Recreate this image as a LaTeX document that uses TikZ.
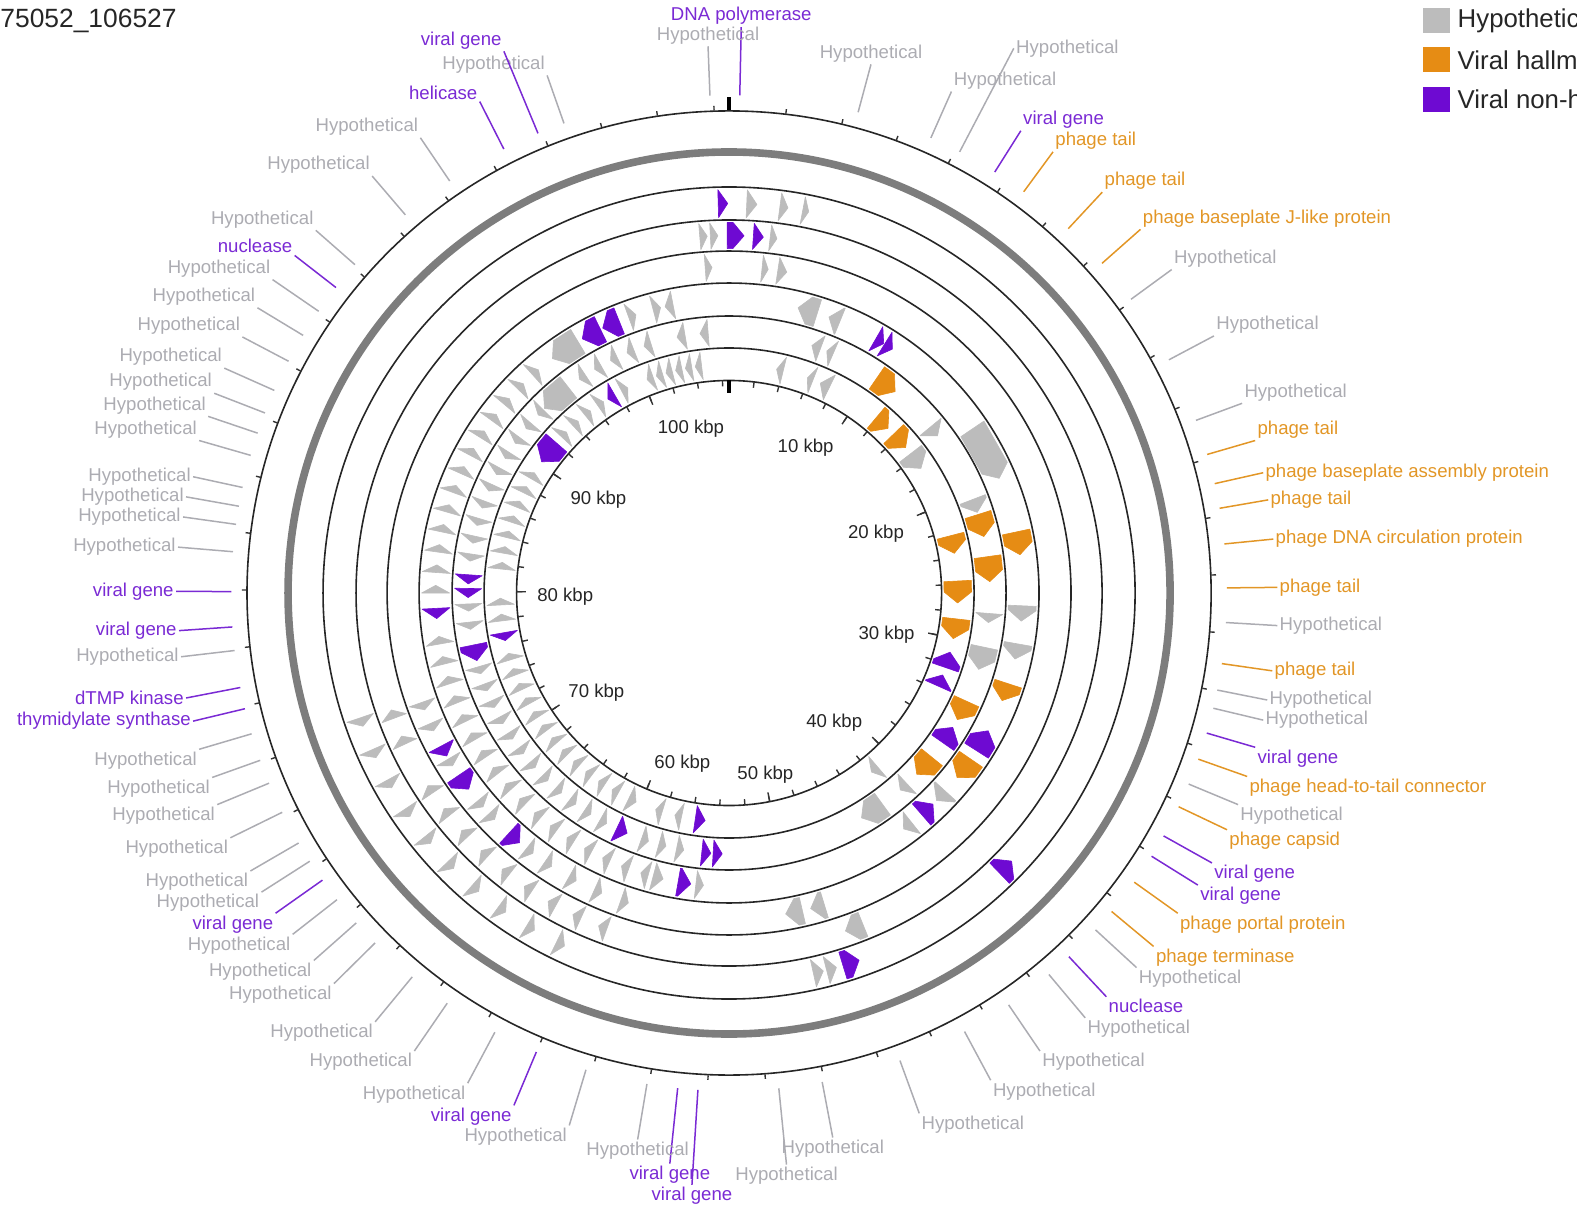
\documentclass[tikz,border=0pt]{standalone}
\usepackage{fontspec}
\setmainfont{Liberation Sans}
\usetikzlibrary{calc}
\definecolor{hyp}{RGB}{188,188,188}
\definecolor{hall}{RGB}{230,140,20}
\definecolor{nonh}{RGB}{110,10,210}
\definecolor{hyptext}{RGB}{172,172,178}
\definecolor{halltext}{RGB}{226,150,38}
\definecolor{nonhtext}{RGB}{122,42,212}
\definecolor{ringgray}{RGB}{125,125,125}
\newcommand\gn[5]{%
 \pgfmathsetmacro\gnro{{0,403.7,370.9,340,308.2,275.4,243.6}[#1]-2.5}%
 \pgfmathsetmacro\gnri{{0,370.9,340,308.2,275.4,243.6,211.3}[#1]+2.5}%
 \pgfmathsetmacro\gnrm{(\gnro+\gnri)/2}%
 \pgfmathsetmacro\gnhd{min((#3)-(#2),11/\gnrm*57.2958)}%
 \ifnum#5>0
  \pgfmathsetmacro\gnA{(#2)-90}\pgfmathsetmacro\gnB{(#3)-90-\gnhd}\pgfmathsetmacro\gnT{(#3)-90}%
 \else
  \pgfmathsetmacro\gnA{(#3)-90}\pgfmathsetmacro\gnB{(#2)-90+\gnhd}\pgfmathsetmacro\gnT{(#2)-90}%
 \fi
 \filldraw[gene=#4] (\gnA:\gnri) -- (\gnA:\gnro) -- (\gnB:\gnro) -- (\gnT:\gnrm) -- (\gnB:\gnri) -- cycle;%
}
\newcommand\lab[5]{%
 \node[#2, anchor=#3] (#1) at (#4) {#5};
 \coordinate (#1-s) at ($(C)!248.9pt!(#1.#3)$);
 \draw[#2line] (#1-s) -- (#1.#3);
}
\begin{document}
\begin{tikzpicture}[x=0.50287pt,y=-0.50287pt,
  gene/.style={fill=#1,draw=#1,line width=0.3pt,line join=round},
  ringline/.style={draw=black!85,line width=0.8pt},
  tickline/.style={draw=black!80,line width=0.7pt},
  labfont/.style={font=\fontsize{9.3}{11}\selectfont,inner sep=1pt},
  hl/.style={labfont,text=hyptext},
  al/.style={labfont,text=halltext},
  nl/.style={labfont,text=nonhtext},
  hlline/.style={draw=hyptext,line width=0.75pt},
  alline/.style={draw=halltext,line width=0.75pt},
  nlline/.style={draw=nonhtext,line width=0.75pt},
  kbp/.style={font=\fontsize{9.3}{11}\selectfont,inner sep=0pt,text=black!85},
  legtext/.style={font=\fontsize{12.9}{15}\selectfont,inner sep=0pt,anchor=west,text=black!85}]
\useasboundingbox (0,0) rectangle (1568,1198);
\clip (0,0) rectangle (1568,1198);
\coordinate (C) at (724.9,589.6);

% title and legend
\node[anchor=base west,font=\fontsize{13.2}{15}\selectfont,inner sep=0pt,text=black!85] (title) at (0,27) {75052\_106527};
\fill[hyp] (1415,8) rectangle (1442,33);
\fill[hall] (1415,47) rectangle (1442,72);
\fill[nonh] (1415,86) rectangle (1442,111);
\node[legtext] (lg1) at (1449,20.5) {Hypothetical};
\node[legtext] (lg2) at (1449,59.5) {Viral hallmark};
\node[legtext] (lg3) at (1449,98.5) {Viral non-hallmark};

\begin{scope}[shift={(724.9,589.6)}]
% rings
\draw[ringline] (0,0) circle[radius=241.03pt];
\draw[draw=ringgray,line width=3.8pt] (0,0) circle[radius=220.51pt];
\foreach \r in {203.01,186.51,170.98,154.98,138.49,122.50,106.26}
  \draw[ringline] (0,0) circle[radius=\r pt];
% ticks
\foreach \k in {2,4,...,106}
  \draw[tickline] ({\k*3.37942-90}:480) -- ({\k*3.37942-90}:484.5);
\foreach \k in {2,4,...,106}
  \draw[tickline] ({\k*3.37942-90}:211.3) -- ({\k*3.37942-90}:205.5);
\foreach \k in {10,20,...,100}
  \draw[tickline] ({\k*3.37942-90}:211.3) -- ({\k*3.37942-90}:202);
\draw[line width=2pt] (-90:480) -- (-90:493);
\draw[line width=2pt] (-90:211.3) -- (-90:198.5);

% ---- genes ----
\gn{1}{-1.6}{-0.2}{nonh}{1}
\gn{1}{2.6}{4.1}{hyp}{1}
\gn{1}{7.5}{8.7}{hyp}{1}
\gn{1}{10.9}{11.8}{hyp}{1}
\gn{2}{-4.7}{-3.5}{hyp}{1}
\gn{2}{-3.0}{-1.8}{hyp}{1}
\gn{2}{-0.3}{2.4}{nonh}{1}
\gn{2}{3.9}{5.5}{nonh}{1}
\gn{2}{6.6}{7.7}{hyp}{1}
\gn{3}{-4.2}{-3.0}{hyp}{1}
\gn{3}{5.8}{6.9}{hyp}{1}
\gn{3}{8.6}{10.2}{hyp}{1}
\gn{4}{-12.6}{-11}{hyp}{-1}
\gn{4}{13.6}{17.5}{hyp}{-1}
\gn{4}{19.9}{22.2}{hyp}{-1}
\gn{5}{-11.5}{-9.7}{hyp}{-1}
\gn{5}{-6.4}{-4.6}{hyp}{-1}
\gn{5}{18.5}{20.5}{hyp}{-1}
\gn{5}{22}{23.5}{hyp}{-1}
\foreach \a in {-21,-18.5,-16,-13.5,-11,-8.5} {\gn{6}{\a}{\a+1.6}{hyp}{-1}}
\gn{6}{12}{13.7}{hyp}{-1}
\gn{6}{20}{21.5}{hyp}{-1}
\gn{6}{23.5}{26}{hyp}{-1}
\gn{4}{30}{31.8}{nonh}{1}
\gn{4}{32}{33.8}{nonh}{1}
\gn{5}{34.5}{39.5}{hall}{1}
\gn{6}{40}{44}{hall}{1}
\gn{6}{46}{50.5}{hall}{1}
\gn{6}{52.5}{57}{hyp}{1}
\gn{5}{50.5}{53}{hyp}{1}
\gn{4}{56}{67}{hyp}{1}
\gn{5}{69}{72}{hyp}{1}
\gn{5}{72.5}{77.5}{hall}{1}
\gn{6}{75.5}{80}{hall}{1}
\gn{4}{78}{82.5}{hall}{1}
\gn{5}{82}{87.5}{hall}{1}
\gn{6}{87}{92.5}{hall}{1}
\gn{4}{92.5}{95.5}{hyp}{1}
\gn{5}{94.5}{96.5}{hyp}{1}
\gn{6}{96.5}{101.5}{hall}{1}
\gn{4}{100}{103}{hyp}{1}
\gn{5}{102}{107}{hyp}{1}
\gn{6}{105}{109}{nonh}{-1}
\gn{4}{108}{111.5}{hall}{1}
\gn{6}{111}{114}{nonh}{-1}
\gn{5}{114.5}{119}{hall}{1}
\gn{4}{118}{122.5}{nonh}{-1}
\gn{5}{121}{125}{nonh}{-1}
\gn{4}{124.5}{129}{hall}{1}
\gn{5}{129}{134}{hall}{1}
\gn{4}{132.5}{135}{hyp}{1}
\gn{1}{133.5}{136}{nonh}{-1}
\gn{4}{136}{139}{nonh}{-1}
\gn{5}{137}{139}{hyp}{1}
\gn{6}{139.5}{141.5}{hyp}{1}
\gn{4}{141.5}{143.5}{hyp}{1}
\gn{5}{144}{149.5}{hyp}{1}
\gn{2}{158}{161}{hyp}{1}
\gn{1}{160.5}{163}{nonh}{-1}
\gn{1}{164}{165.5}{hyp}{-1}
\gn{1}{166}{167.5}{hyp}{-1}
\gn{3}{163}{165.5}{hyp}{1}
\gn{3}{167}{170}{hyp}{1}
\gn{6}{186}{188.5}{nonh}{-1}
\gn{6}{204}{206}{hyp}{-1}
\gn{5}{181.5}{183.5}{nonh}{-1}
\gn{5}{184}{186}{nonh}{-1}
\gn{5}{203}{205.5}{nonh}{-1}
\gn{4}{187.5}{190}{nonh}{-1}
\gn{4}{185}{186.5}{hyp}{-1}
\gn{4}{193}{195}{hyp}{-1}
\gn{3}{220}{222.5}{nonh}{-1}
\gn{3}{233}{236}{nonh}{-1}
\gn{3}{240}{242}{nonh}{-1}
\gn{5}{255}{258.5}{nonh}{-1}
\gn{6}{258}{260}{nonh}{-1}
\gn{5}{269}{271}{nonh}{-1}
\gn{5}{272}{274}{nonh}{-1}
\gn{4}{265}{267}{nonh}{-1}
\gn{4}{330}{334}{nonh}{-1}
\gn{4}{334.5}{338}{nonh}{-1}
\gn{6}{305}{311}{nonh}{-1}
\gn{6}{328}{330}{nonh}{-1}
\gn{5}{315}{322}{hyp}{-1}
\gn{4}{323}{329}{hyp}{-1}
\foreach \a in {192,197,209,213,217,221,225,229,233,237,241,245,249,253,263,267,276,280,284,288,292,296,300,313,317,321,325,332}
  {\gn{6}{\a}{\a+1.7}{hyp}{1}}
\foreach \a in {190,194,198,208,212,216,220,224,228,232,236,240,244,248,252,262,266,277,281,285,289,293,297,301,305,309,313,325,329,333,337,341}
  {\gn{5}{\a}{\a+1.6}{hyp}{-1}}
\foreach \a in {196,200,204,208,212,216,220,224,228,232,236,240,244,248,252,256,260,270,274,278,282,286,290,294,298,302,306,310,314,318,340,345}
  {\gn{4}{\a}{\a+1.5}{hyp}{1}}
\foreach \a in {205,210,215,220,225,230,235,240,245,250}
  {\gn{1}{\a}{\a+1.3}{hyp}{-1}}
\foreach \a in {200,204.5,209,213.5,218,222.5,227,231.5,236,245,249.5}
  {\gn{2}{\a}{\a+1.4}{hyp}{1}}
\foreach \a in {198,203,208,213,217,226,229,238,245,249}
  {\gn{3}{\a}{\a+1.4}{hyp}{-1}}
\end{scope}

% kbp labels
\node[kbp] (k100) at (687,426.5) {100 kbp};
\node[kbp] (k10) at (801,445.5) {10 kbp};
\node[kbp] (k90) at (595,497) {90 kbp};
\node[kbp] (k20) at (871,531) {20 kbp};
\node[kbp] (k80) at (562,593) {80 kbp};
\node[kbp] (k30) at (881.5,631.5) {30 kbp};
\node[kbp] (k70) at (593,689) {70 kbp};
\node[kbp] (k40) at (829.5,719) {40 kbp};
\node[kbp] (k60) at (678.5,759.5) {60 kbp};
\node[kbp] (k50) at (761,770.5) {50 kbp};

% ---- outer labels ----
\lab{t1}{nl}{south}{737,27}{DNA polymerase}
\lab{t2}{hl}{south}{704,46}{Hypothetical}
\lab{t3}{hl}{south}{866,64}{Hypothetical}
\lab{t4}{hl}{south west}{946,91}{Hypothetical}
\lab{t5}{hl}{west}{1008,48}{Hypothetical}
\lab{t6}{nl}{south west}{1015,130}{viral gene}
\lab{t7}{al}{south west}{1047,151}{phage tail}
\lab{t8}{al}{south west}{1096,191}{phage tail}
\lab{t9}{al}{south west}{1134,228}{phage baseplate J-like protein}
\lab{t10}{hl}{south west}{1165,268}{Hypothetical}
\lab{t11}{hl}{south west}{1207,334}{Hypothetical}
\lab{t12}{hl}{south west}{1235,401}{Hypothetical}
\lab{t13}{al}{south west}{1248,438}{phage tail}
\lab{t14}{al}{west}{1256,470}{phage baseplate assembly protein}
\lab{t15}{al}{west}{1261,497}{phage tail}
\lab{t16}{al}{west}{1266,536}{phage DNA circulation protein}
\lab{t17}{al}{west}{1270,584}{phage tail}
\lab{t18}{hl}{west}{1270,622}{Hypothetical}
\lab{t19}{al}{west}{1265,667}{phage tail}
\lab{t20}{hl}{west}{1260,696}{Hypothetical}
\lab{t21}{hl}{west}{1256,716}{Hypothetical}
\lab{t22}{nl}{north west}{1248,743}{viral gene}
\lab{t23}{al}{north west}{1240,772}{phage head-to-tail connector}
\lab{t24}{hl}{north west}{1231,800}{Hypothetical}
\lab{t25}{al}{north west}{1220,825}{phage capsid}
\lab{t26}{nl}{north west}{1205,858}{viral gene}
\lab{t27}{nl}{north west}{1191,880}{viral gene}
\lab{t28}{al}{north west}{1171,908}{phage portal protein}
\lab{t29}{al}{north west}{1147,941}{phage terminase}
\lab{t30}{hl}{north west}{1130,962}{Hypothetical}
\lab{t31}{nl}{north west}{1100,991}{nuclease}
\lab{t32}{hl}{north west}{1079,1012}{Hypothetical}
\lab{t33}{hl}{north west}{1034,1045}{Hypothetical}
\lab{t34}{hl}{north west}{985,1074}{Hypothetical}
\lab{t35}{hl}{north west}{914,1107}{Hypothetical}
\lab{t36}{hl}{north}{828,1131}{Hypothetical}
\lab{t37}{hl}{north}{782,1158}{Hypothetical}
\lab{t38}{nl}{north}{688,1178}{viral gene}
\lab{t39}{nl}{north}{666,1157}{viral gene}
\lab{t40}{hl}{north}{634,1133}{Hypothetical}
\lab{t41}{hl}{north east}{566,1119}{Hypothetical}
\lab{t42}{nl}{north east}{511,1099}{viral gene}
\lab{t43}{hl}{north east}{465,1077}{Hypothetical}
\lab{t44}{hl}{north east}{412,1045}{Hypothetical}
\lab{t45}{hl}{north east}{373,1016}{Hypothetical}
\lab{t46}{hl}{north east}{332,978}{Hypothetical}
\lab{t47}{hl}{north east}{312,955}{Hypothetical}
\lab{t48}{hl}{north east}{291,929}{Hypothetical}
\lab{t49}{nl}{north east}{274,908}{viral gene}
\lab{t50}{hl}{north east}{260,887}{Hypothetical}
\lab{t51}{hl}{north east}{249,866}{Hypothetical}
\lab{t52}{hl}{north east}{229,833}{Hypothetical}
\lab{t53}{hl}{north east}{216,800}{Hypothetical}
\lab{t54}{hl}{north east}{211,773}{Hypothetical}
\lab{t55}{hl}{north east}{198,745}{Hypothetical}
\lab{t56}{nl}{east}{192,717}{thymidylate synthase}
\lab{t57}{nl}{east}{185,694}{dTMP kinase}
\lab{t58}{hl}{east}{180,653}{Hypothetical}
\lab{t59}{nl}{east}{178,627}{viral gene}
\lab{t60}{nl}{east}{175,588}{viral gene}
\lab{t61}{hl}{east}{177,544}{Hypothetical}
\lab{t62}{hl}{east}{182,514}{Hypothetical}
\lab{t63}{hl}{east}{185,494}{Hypothetical}
\lab{t64}{hl}{east}{192,474}{Hypothetical}
\lab{t65}{hl}{south east}{198,438}{Hypothetical}
\lab{t66}{hl}{south east}{207,414}{Hypothetical}
\lab{t67}{hl}{south east}{213,391}{Hypothetical}
\lab{t68}{hl}{south east}{223,366}{Hypothetical}
\lab{t69}{hl}{south east}{241,335}{Hypothetical}
\lab{t70}{hl}{south east}{256,306}{Hypothetical}
\lab{t71}{hl}{south east}{271,278}{Hypothetical}
\lab{t72}{nl}{south east}{293,254}{nuclease}
\lab{t73}{hl}{south east}{314,229}{Hypothetical}
\lab{t74}{hl}{south east}{370,175}{Hypothetical}
\lab{t75}{hl}{south east}{418,137}{Hypothetical}
\lab{t76}{nl}{south east}{477,101}{helicase}
\lab{t77}{hl}{south east}{544,75}{Hypothetical}
\lab{t78}{nl}{south east}{501,51}{viral gene}
\end{tikzpicture}
\end{document}
